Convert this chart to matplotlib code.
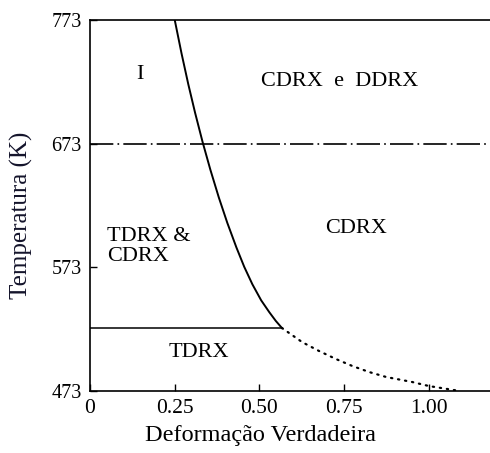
import matplotlib
matplotlib.use("Agg")
import matplotlib.pyplot as plt

# Boundary between TDRX & CDRX region and CDRX region (solid curve)
solid_strain = [0.25, 0.27, 0.29, 0.31, 0.332, 0.355, 0.38, 0.405, 0.432,
                0.455, 0.479, 0.505, 0.529, 0.548, 0.566]
solid_temp = [773, 746, 721, 698, 674.5, 652, 629.5, 609, 589,
              573.4, 559.3, 546.3, 536.7, 529.7, 524]

# Extrapolated boundary (dotted)
dotted_strain = [0.566, 0.626, 0.676, 0.726, 0.774, 0.824, 0.874, 0.95, 1.0, 1.08]
dotted_temp = [524, 512.5, 505.3, 498.8, 493.2, 488.3, 484.3, 480.3, 477, 473.5]

# Horizontal limits
ddrx_temp = 673
tdrx_temp = 524
tdrx_strain_end = 0.566

x_ticks = [0, 0.25, 0.50, 0.75, 1.00]
x_tick_labels = ["0", "0.25", "0.50", "0.75", "1.00"]
y_ticks = [473, 573, 673, 773]

plt.rcParams["font.family"] = ["Liberation Serif", "DejaVu Serif"]

fig = plt.figure(figsize=(4.9, 4.53), dpi=100)
ax = fig.add_axes([90 / 490, 62 / 453, 400 / 490, 371 / 453])

ax.plot(solid_strain, solid_temp, color="black", lw=1.4, solid_joinstyle="round")
ax.plot(dotted_strain, dotted_temp, color="black", lw=1.6, linestyle=(0, (0.6, 2.6)),
        dash_capstyle="round")
ax.plot([0, tdrx_strain_end], [tdrx_temp, tdrx_temp], color="black", lw=1.1)
ax.axhline(ddrx_temp, color="black", lw=1.2, linestyle=(0, (14, 2.5, 1, 2.5)))

ax.set_xlim(0, 1.18)
ax.set_ylim(473, 773)

ax.spines["right"].set_visible(False)
for s in ["left", "bottom", "top"]:
    ax.spines[s].set_linewidth(1.2)

ax.set_xticks(x_ticks)
ax.set_xticklabels(x_tick_labels)
ax.set_yticks(y_ticks)
ax.tick_params(direction="in", length=5, width=1, pad=6)
ax.tick_params(axis="x", labelsize=15.5)
ax.tick_params(axis="y", labelsize=14.5)

ax.set_xlabel("Deformação Verdadeira", fontsize=17.5)
ax.xaxis.set_label_coords(0.425, -0.092)
ax.set_ylabel("Temperatura (K)", fontsize=18, color="#14142b")
ax.yaxis.set_label_coords(-0.142, 0.474)

ax.text(0.147, 729, "I", fontsize=16, ha="center", va="center")
ax.text(0.735, 723, "CDRX  e  DDRX", fontsize=16, ha="center", va="center")
ax.text(0.05, 590, "TDRX &\nCDRX", fontsize=16, ha="left", va="center", linespacing=1.05)
ax.text(0.785, 604, "CDRX", fontsize=16, ha="center", va="center")
ax.text(0.32, 504, "TDRX", fontsize=16, ha="center", va="center")

fig.savefig("out.png", dpi=100)
